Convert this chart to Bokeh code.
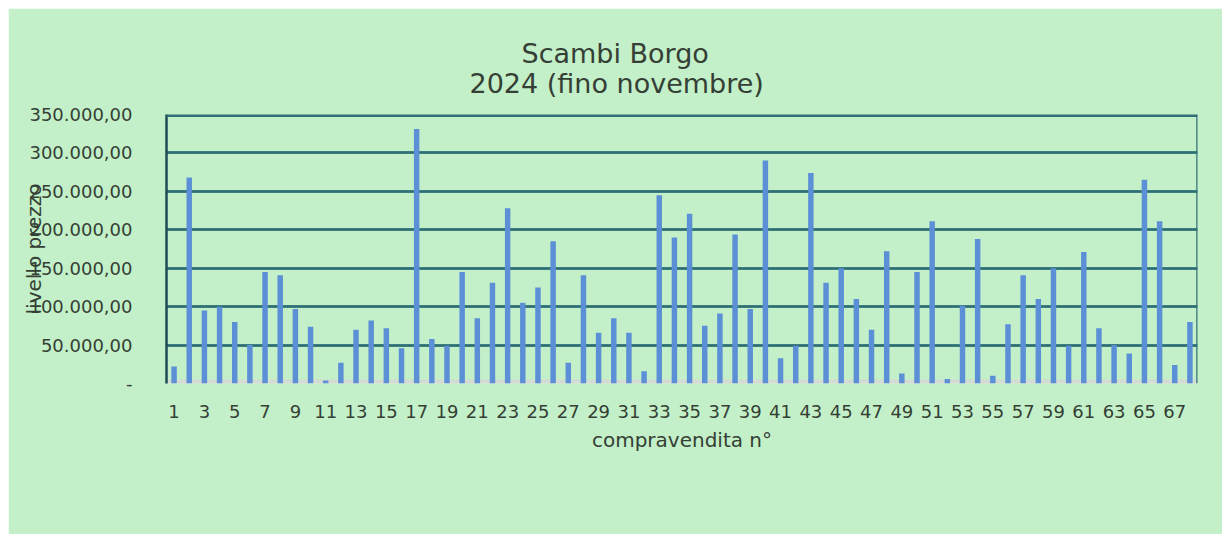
from bokeh.plotting import figure
from bokeh.models import (FixedTicker, Grid, Range1d, Span, ColumnDataSource, Title)
from bokeh.embed import file_html
from bokeh.resources import INLINE

# ---- data ----
compravendita = list(range(1, 69))
prezzo = [22000, 268000, 95000, 100000, 80000, 50000, 145000, 141000, 97000, 74000,
          4000, 27000, 70000, 82000, 72000, 46000, 331000, 58000, 49000, 145000,
          85000, 131000, 228000, 105000, 125000, 185000, 27000, 141000, 66000, 85000,
          66000, 16000, 245000, 190000, 221000, 75000, 91000, 194000, 97000, 290000,
          33000, 49000, 274000, 131000, 150000, 110000, 70000, 172000, 13000, 145000,
          211000, 6000, 101000, 188000, 10000, 77000, 141000, 110000, 150000, 49000,
          171000, 72000, 50000, 39000, 265000, 211000, 24000, 80000]
x_ticks = list(range(1, 68, 2))
y_ticks = [0, 50000, 100000, 150000, 200000, 250000, 300000, 350000]
y_tick_labels = ["-", "50.000,00", "100.000,00", "150.000,00", "200.000,00",
                 "250.000,00", "300.000,00", "350.000,00"]
title_line1 = "Scambi Borgo"
title_line2 = "2024 (fino novembre)"
x_label = "compravendita n°"
y_label = "livello prezzo"

BG = "#c3f0c8"
BAR = "#5b8fd6"
GRID = "#2f6f74"
FONT = "DejaVu Sans"
TXT = "#353f35"

src = ColumnDataSource(dict(x=compravendita, top=prezzo))

p = figure(width=1214, height=526, output_backend="svg", toolbar_location=None,
           x_range=Range1d(0.5, 68.5), y_range=Range1d(0, 350000),
           min_border_left=158, min_border_right=25, min_border_top=106,
           min_border_bottom=151)
p.margin = (8, 0, 0, 8)
p.background_fill_color = BG
p.border_fill_color = BG
p.outline_line_color = None

# glow under gridlines
glow = Grid(dimension=1, ticker=FixedTicker(ticks=y_ticks[1:]))
glow.grid_line_color = "#9edcd6"
glow.grid_line_alpha = 0.75
glow.grid_line_width = 12
p.add_layout(glow)

p.xgrid.grid_line_color = None
p.ygrid.ticker = FixedTicker(ticks=y_ticks[1:])
p.ygrid.grid_line_color = GRID
p.ygrid.grid_line_width = 2.5

zero_band = Span(location=y_ticks[0], dimension="width", line_color="#d3dbd3",
                 line_width=8, level="underlay")
p.add_layout(zero_band)

p.vbar(x="x", top="top", width=0.36, source=src, fill_color=BAR, line_color=None)

right_edge = Span(location=p.x_range.end, dimension="height", line_color=GRID,
                  line_width=2.5)
p.add_layout(right_edge)
top_edge = Span(location=p.y_range.end, dimension="width", line_color=GRID,
                line_width=5)
p.add_layout(top_edge)

# axes
p.xaxis.ticker = FixedTicker(ticks=x_ticks)
p.xaxis.axis_line_color = None
p.xaxis.major_tick_line_color = None
p.xaxis.minor_tick_line_color = None
p.xaxis.major_label_text_font = FONT
p.xaxis.major_label_text_font_size = "18px"
p.xaxis.major_label_text_color = TXT
p.xaxis.major_label_standoff = 15
p.xaxis.axis_label = x_label
p.xaxis.axis_label_text_font = FONT
p.xaxis.axis_label_text_font_style = "normal"
p.xaxis.axis_label_text_font_size = "20px"
p.xaxis.axis_label_text_color = TXT
p.xaxis.axis_label_standoff = 7

p.yaxis.ticker = FixedTicker(ticks=y_ticks)
p.yaxis.major_label_overrides = {t: l for t, l in zip(y_ticks, y_tick_labels)}
p.yaxis.axis_line_color = "#1d4c55"
p.yaxis.axis_line_width = 2.5
p.yaxis.major_tick_line_color = None
p.yaxis.minor_tick_line_color = None
p.yaxis.major_label_text_font = FONT
p.yaxis.major_label_text_font_size = "18px"
p.yaxis.major_label_text_color = TXT
p.yaxis.major_label_standoff = 28
p.yaxis.axis_label = y_label
p.yaxis.axis_label_text_font = FONT
p.yaxis.axis_label_text_font_style = "normal"
p.yaxis.axis_label_text_font_size = "20px"
p.yaxis.axis_label_text_color = TXT
p.yaxis.axis_label_standoff = -20

p.title.text = ""
# second title line nearest the frame, first line above it
p.add_layout(Title(text=title_line2, align="left", offset=303, text_font=FONT,
                   text_font_size="27px", text_font_style="normal",
                   text_color=TXT, standoff=32), "above")
p.add_layout(Title(text=title_line1, align="left", offset=355, text_font=FONT,
                   text_font_size="27px", text_font_style="normal",
                   text_color=TXT, standoff=-38), "above")

open("out.html", "w").write(file_html(p, INLINE))
